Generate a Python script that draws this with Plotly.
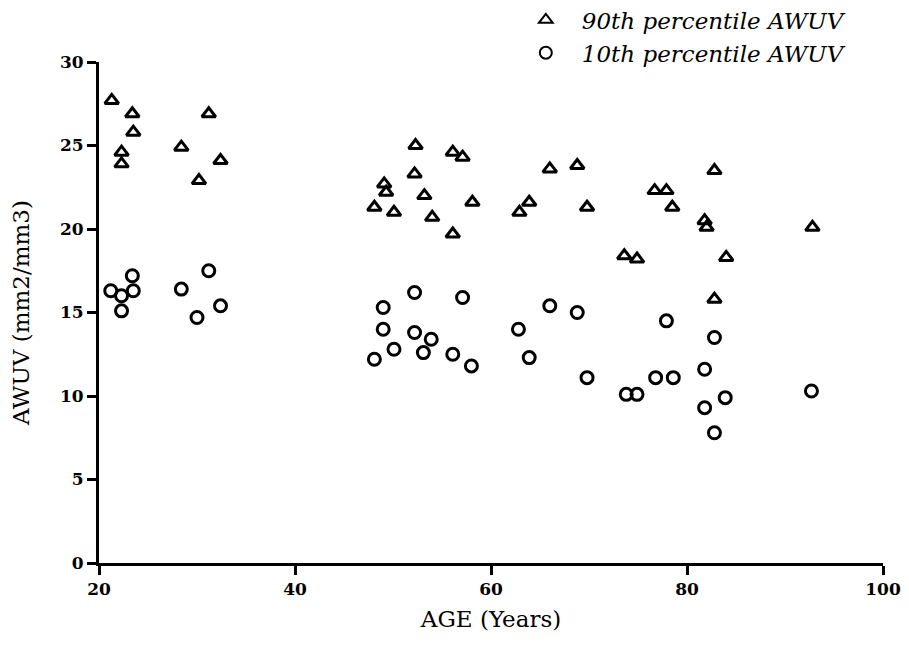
import plotly.graph_objects as go

# Age (years) and AWUV (mm2/mm3) for the 90th percentile series
age_90 = [21.3, 23.4, 23.5, 22.3, 22.3, 28.4, 31.2, 30.2, 32.4,
          52.3, 56.1, 57.1, 52.2, 49.1, 49.3, 48.1, 50.1, 53.2, 54.0, 58.1, 56.1,
          66.0, 68.8, 63.9, 62.9, 69.8, 76.7, 77.9, 82.8, 78.5, 81.8, 82.0,
          73.6, 74.9, 84.0, 82.8, 92.8]
awuv_90 = [27.7, 26.9, 25.8, 24.6, 23.9, 24.9, 26.9, 22.9, 24.1,
           25.0, 24.6, 24.3, 23.3, 22.7, 22.2, 21.3, 21.0, 22.0, 20.7, 21.6, 19.7,
           23.6, 23.8, 21.6, 21.0, 21.3, 22.3, 22.3, 23.5, 21.3, 20.5, 20.1,
           18.4, 18.2, 18.3, 15.8, 20.1]

# Age (years) and AWUV (mm2/mm3) for the 10th percentile series
age_10 = [21.2, 22.3, 23.4, 23.5, 22.3, 28.4, 31.2, 30.0, 32.4,
          52.2, 49.0, 57.1, 49.0, 52.2, 53.9, 50.1, 53.1, 48.1, 56.1, 58.0, 62.8, 63.9,
          66.0, 68.8, 69.8, 73.8, 74.9, 76.8, 78.6, 77.9, 82.8, 81.8, 83.9, 81.8, 82.8, 92.7]
awuv_10 = [16.3, 16.0, 17.2, 16.3, 15.1, 16.4, 17.5, 14.7, 15.4,
           16.2, 15.3, 15.9, 14.0, 13.8, 13.4, 12.8, 12.6, 12.2, 12.5, 11.8, 14.0, 12.3,
           15.4, 15.0, 11.1, 10.1, 10.1, 11.1, 11.1, 14.5, 13.5, 11.6, 9.9, 9.3, 7.8, 10.3]

x_ticks = [20, 40, 60, 80, 100]
y_ticks = [0, 5, 10, 15, 20, 25, 30]

SERIF = "DejaVu Serif, serif"

fig = go.Figure()
fig.add_trace(go.Scatter(
    x=age_90, y=awuv_90, mode="markers", name="90th percentile AWUV",
    legendgroup="p90",
    marker=dict(symbol="triangle-up-open", size=12, color="black",
                line=dict(width=3, color="black")),
))
fig.add_trace(go.Scatter(
    x=age_10, y=awuv_10, mode="markers", name="10th percentile AWUV",
    legendgroup="p10",
    marker=dict(symbol="circle-open", size=12, color="black",
                line=dict(width=3, color="black")),
))

axis_common = dict(
    showline=True, linecolor="black", linewidth=3,
    ticks="outside", ticklen=9, tickwidth=2.5, tickcolor="black",
    showgrid=False, zeroline=False,
    tickfont=dict(family=SERIF, size=17, color="black", weight="bold"),
)

fig.update_layout(
    width=909, height=656,
    plot_bgcolor="white", paper_bgcolor="white",
    margin=dict(l=99, r=26, t=62, b=93, autoexpand=False),
    xaxis=dict(range=[20, 100], tickvals=x_ticks, ticktext=[str(v) for v in x_ticks],
               title=dict(text="AGE (Years)", standoff=13,
                          font=dict(family=SERIF, size=23, color="black")),
               **axis_common),
    yaxis=dict(range=[0, 30], tickvals=y_ticks, ticktext=[str(v) for v in y_ticks],
               title=dict(text="AWUV (mm2/mm3)", standoff=24,
                          font=dict(family=SERIF, size=23, color="black")),
               **axis_common),
    legend=dict(x=0.524, y=1.127, xanchor="left", yanchor="top",
                bgcolor="rgba(0,0,0,0)", itemsizing="constant",
                traceorder="grouped", tracegroupgap=0, itemwidth=62,
                font=dict(family=SERIF, size=23, color="black", style="italic")),
    showlegend=True,
)

fig.write_html("out.html")
